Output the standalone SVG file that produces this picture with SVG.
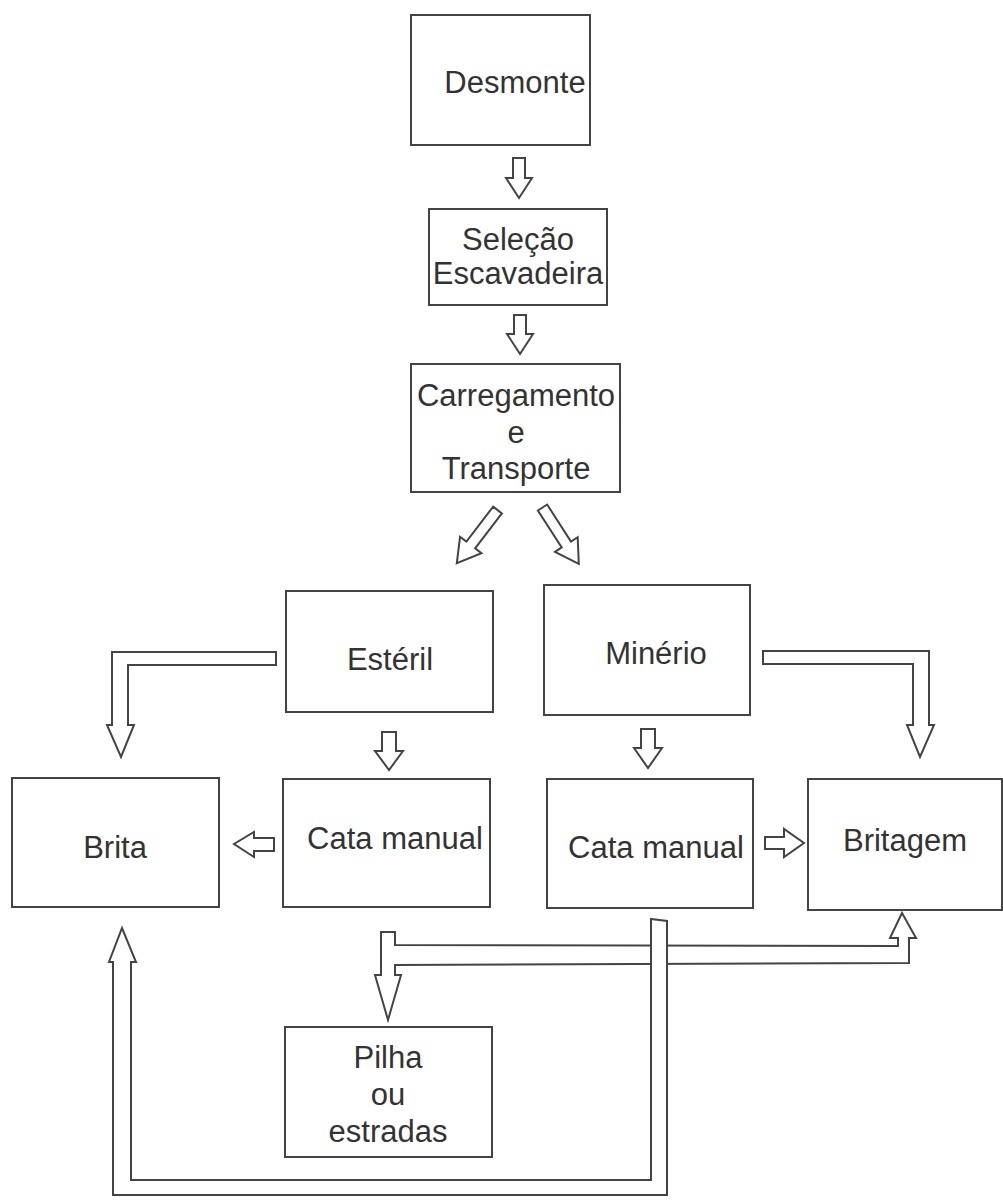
<svg xmlns="http://www.w3.org/2000/svg" width="1003" height="1200" viewBox="0 0 1003 1200">
<style>
.box{fill:#fff;stroke:#444;stroke-width:2}
.ar{fill:#fff;stroke:#444;stroke-width:2;stroke-linejoin:miter}
.t{font-family:"Liberation Sans",Arial,sans-serif;font-size:31px;fill:#333;text-anchor:middle}
</style>
<defs>
<path id="diag" d="M-5.5,0 L5.5,0 L5.5,44 L13.5,44 L0,67 L-13.5,44 L-5.5,44 Z"/>
</defs>
<rect width="1003" height="1200" fill="#fff"/>
<g id="connectors">
<polygon class="ar" points="513,158 525,158 525,178 532,178 519,198 506,178 513,178"/>
<polygon class="ar" points="514,315 526,315 526,334 533,334 520,354 507,334 514,334"/>
<use href="#diag" class="ar" transform="translate(497.5,510) rotate(37.4)"/>
<use href="#diag" class="ar" transform="translate(542.5,507.5) rotate(-32.8)"/>
<polygon class="ar" points="276,652 112,652 112,725 107,725 121,757 134,725 128,725 128,665 276,665"/>
<polygon class="ar" points="763,651 929,651 929,725 934,725 920,757 907,725 913,725 913,664 763,664"/>
<polygon class="ar" points="382,732 396,732 396,751 403,751 389,770 375,751 382,751"/>
<polygon class="ar" points="641,729 655,729 655,748 662,748 648,768 634,748 641,748"/>
<polygon class="ar" points="274,838 274,851 254,851 254,857 234,844 254,832 254,838"/>
<polygon class="ar" points="765,837 784,837 784,829 804,843 784,857 784,849 765,849"/>
<polygon class="ar" points="381,932 395,932 395,945 898,946 898,938 890,938 902,913 916,938 909,938 909,963 395,965 395,975 401,975 388,1020 375,975 381,975"/>
<polygon class="ar" points="651,919 667,921 667,1195 113,1195 113,962 109,962 122,928 136,962 131,962 131,1180 651,1180"/>
</g>
<g id="desmonte"><rect class="box" x="411" y="15" width="179" height="130"/><text class="t" x="515" y="93">Desmonte</text></g>
<g id="selecao"><rect class="box" x="429" y="209" width="178" height="96"/><text class="t" x="518" y="250">Seleção</text><text class="t" x="518" y="284">Escavadeira</text></g>
<g id="carregamento"><rect class="box" x="411" y="364" width="209" height="128"/><text class="t" x="516" y="406">Carregamento</text><text class="t" x="516" y="443">e</text><text class="t" x="516" y="479">Transporte</text></g>
<g id="esteril"><rect class="box" x="286" y="591" width="207" height="121"/><text class="t" x="390" y="670">Estéril</text></g>
<g id="minerio"><rect class="box" x="544" y="585" width="206" height="130"/><text class="t" x="656" y="664">Minério</text></g>
<g id="brita"><rect class="box" x="12" y="778" width="207" height="129"/><text class="t" x="115" y="858">Brita</text></g>
<g id="cata1"><rect class="box" x="283" y="779" width="207" height="128"/><text class="t" x="395" y="849">Cata manual</text></g>
<g id="cata2"><rect class="box" x="547" y="779" width="206" height="129"/><text class="t" x="656" y="858">Cata manual</text></g>
<g id="britagem"><rect class="box" x="808" y="779" width="194" height="131"/><text class="t" x="905" y="851">Britagem</text></g>
<g id="pilha"><rect class="box" x="285" y="1027" width="207" height="130"/><text class="t" x="388" y="1068">Pilha</text><text class="t" x="388" y="1105">ou</text><text class="t" x="388" y="1142">estradas</text></g>
</svg>
